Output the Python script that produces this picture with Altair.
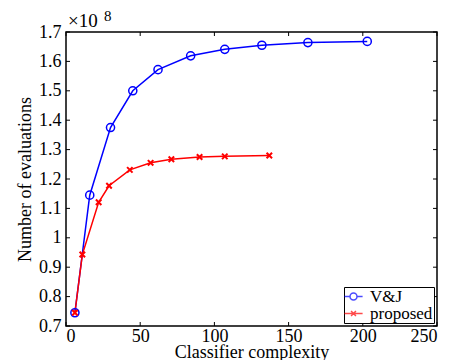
import altair as alt
import pandas as pd

# ---- data (values in units of 1e8) ----
vj_x = [6, 16, 30, 45, 62, 84, 107, 132, 163, 203]
vj_y = [0.745, 1.145, 1.375, 1.500, 1.572, 1.619, 1.641, 1.655, 1.664, 1.668]
prop_x = [6, 11, 22, 29, 43, 57, 71, 90, 107, 137]
prop_y = [0.745, 0.943, 1.121, 1.177, 1.231, 1.255, 1.267, 1.275, 1.277, 1.280]
series_names = ["V&J", "proposed"]
series_colors = ["#0000ff", "#ff0000"]
x_ticks = [0, 50, 100, 150, 200, 250]
y_ticks = [0.7, 0.8, 0.9, 1.0, 1.1, 1.2, 1.3, 1.4, 1.5, 1.6, 1.7]
exp_base = ["×10"]
exp_power = ["8"]

FONT = "'Liberation Serif', 'Times New Roman', Times, 'DejaVu Serif', serif"
W, H = 371, 294

df = pd.DataFrame({
    "x": vj_x + prop_x,
    "y": vj_y + prop_y,
    "series": [series_names[0]] * len(vj_x) + [series_names[1]] * len(prop_x),
})

xs = alt.Scale(domain=[0, 250], nice=False)
ys = alt.Scale(domain=[0.7, 1.7], nice=False)

x_axis = alt.Axis(title="Classifier complexity", values=x_ticks, ticks=False, domain=False,
                  grid=False, labelPadding=1, titleY=31, titleBaseline="alphabetic")
y_axis = alt.Axis(title="Number of evaluations", values=y_ticks, ticks=False, domain=False,
                  grid=False, format=".1~f", labelPadding=5, titlePadding=4)

x_enc = alt.X("x:Q", scale=xs, axis=x_axis)
y_enc = alt.Y("y:Q", scale=ys, axis=y_axis)

vj_sym = ("M-1.3,0L-0.5,0M0.5,0L1.3,0"
          "M-0.5,0A0.5,0.5 0 1,0 0.5,0A0.5,0.5 0 1,0 -0.5,0")
pr_sym = "M-1.3,0L1.3,0M-0.35,-0.35L0.35,0.35M0.35,-0.35L-0.35,0.35"

legend = alt.Legend(
    title=None, orient="bottom-right", offset=3, padding=1,
    strokeColor="black", fillColor="white", labelFont=FONT, labelFontSize=17,
    labelColor="black",
    symbolSize=196, symbolStrokeWidth=1.5, labelOffset=8, rowPadding=-3,
    cornerRadius=0, symbolFillColor="transparent",
)

base = alt.Chart(df)

def series_layers(name, color, shape, size, sw):
    d = base.transform_filter(alt.datum.series == name)
    ln = d.mark_line(strokeWidth=1.5, color=color).encode(x=x_enc, y=y_enc)
    pt = d.mark_point(shape=shape, filled=False, size=size, strokeWidth=sw,
                      color=color, opacity=1).encode(x=x_enc, y=y_enc)
    return ln, pt

vj_line, vj_pts = series_layers(series_names[0], series_colors[0], "circle", 66, 1.5)
pr_line, pr_pts = series_layers(series_names[1], series_colors[1], "M-1,-1L1,1M1,-1L-1,1", 30, 2)

# legend-only layer (no rows drawn; legend comes from explicit scale domains)
legend_layer = base.transform_filter("false").mark_point(filled=False, strokeWidth=1.5).encode(
    x=x_enc, y=y_enc,
    color=alt.Color("series:N", scale=alt.Scale(domain=series_names, range=series_colors),
                    legend=legend),
    shape=alt.Shape("series:N", scale=alt.Scale(domain=series_names, range=[vj_sym, pr_sym]),
                    legend=legend),
)

xt = alt.Chart(pd.DataFrame({"x": x_ticks}))
yt = alt.Chart(pd.DataFrame({"y": y_ticks}))
tick_bottom = xt.mark_rule(color="black", strokeWidth=1).encode(
    x=x_enc, y=alt.value(H), y2=alt.value(H - 4))
tick_top = xt.mark_rule(color="black", strokeWidth=1).encode(
    x=x_enc, y=alt.value(0), y2=alt.value(4))
tick_left = yt.mark_rule(color="black", strokeWidth=1).encode(
    y=y_enc, x=alt.value(0), x2=alt.value(4))
tick_right = yt.mark_rule(color="black", strokeWidth=1).encode(
    y=y_enc, x=alt.value(W - 4), x2=alt.value(W))

exp1 = alt.Chart(pd.DataFrame({"t": exp_base})).mark_text(
    font=FONT, fontSize=19, align="left", baseline="alphabetic", color="black"
).encode(text="t:N", x=alt.value(2), y=alt.value(-5))
exp2 = alt.Chart(pd.DataFrame({"t": exp_power})).mark_text(
    font=FONT, fontSize=15, align="left", baseline="alphabetic", color="black"
).encode(text="t:N", x=alt.value(38), y=alt.value(-11))

chart = alt.layer(
    tick_bottom, tick_top, tick_left, tick_right,
    vj_line, pr_line, vj_pts, pr_pts, legend_layer, exp1, exp2
).properties(
    width=W, height=H, background="white",
    padding={"left": 8, "top": 1, "right": 0, "bottom": 0},
).configure_view(
    stroke="black", strokeWidth=1.5
).configure_axis(
    labelFont=FONT, titleFont=FONT, labelFontSize=18, titleFontSize=18,
    labelColor="black", titleColor="black", titleFontWeight="normal"
)

chart.save("out.html", embed_options={"renderer": "svg", "actions": False})
